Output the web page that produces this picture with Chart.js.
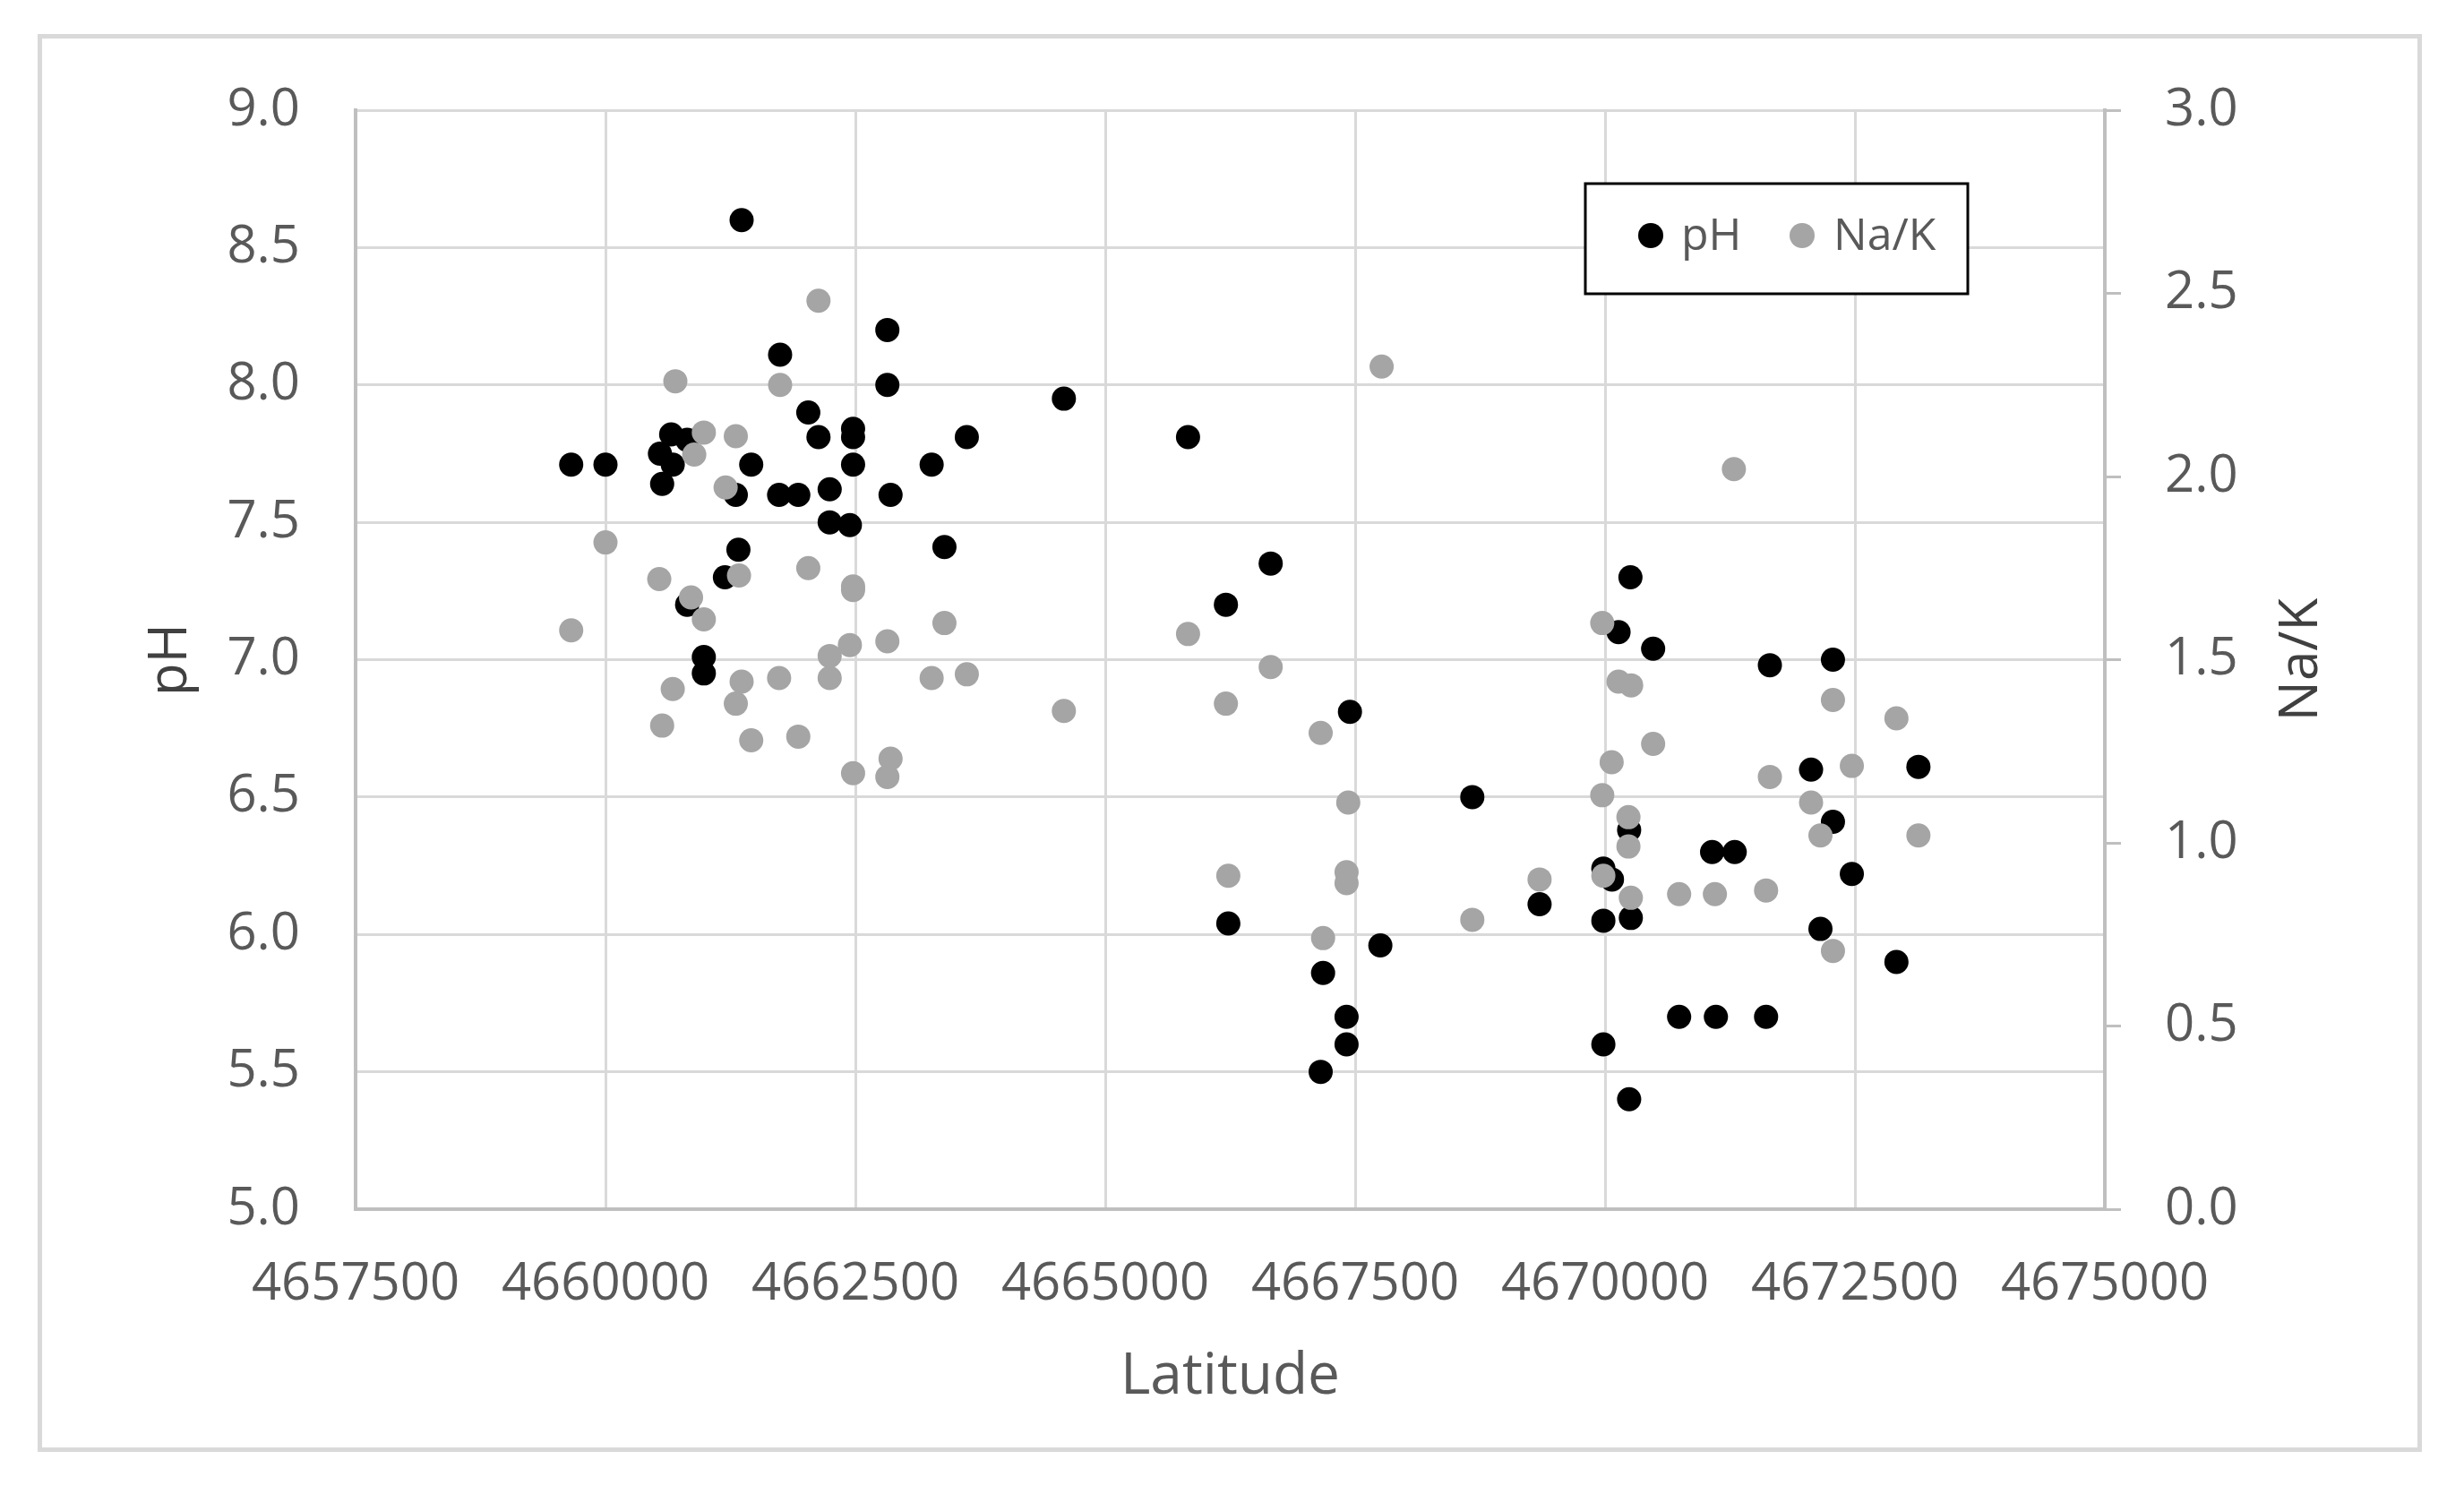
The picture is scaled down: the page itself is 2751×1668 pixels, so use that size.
<!DOCTYPE html>
<html>
<head>
<meta charset="utf-8">
<title>pH and Na/K vs Latitude</title>
<script src="https://cdn.jsdelivr.net/npm/chart.js@4/dist/chart.umd.min.js"></script>
<style>
    html, body { margin: 0; padding: 0; background: #fff; }
    body { width: 2751px; height: 1668px; position: relative; overflow: hidden; }
    #frame {
        position: absolute; left: 42px; top: 38px;
        width: 2652px; height: 1573px;
        border: 5px solid #d9d9d9;
    }
    #wrap { position: absolute; left: 0; top: 0; width: 2751px; height: 1668px; }
</style>
</head>
<body>
<div id="frame"></div>
<div id="wrap"><canvas id="chart"></canvas></div>
<script>
// ===== Data =====
const latitudePH = [
    4659657, 4660000, 4660545, 4660567, 4660657, 4660673, 4660817, 4660817, 4660984, 4660984,
    4661195, 4661330, 4661304, 4661362, 4661458, 4661737, 4661747, 4661929, 4662029, 4662131,
    4662243, 4662243, 4662445, 4662477, 4662477, 4662477, 4662820, 4662820, 4662852, 4663263,
    4663391, 4663615,
    4664586, 4665828, 4666207, 4666655, 4666231, 4667448, 4667179, 4667414, 4667414, 4667155,
    4667752, 4668672,
    4669345, 4669983, 4670069, 4669983, 4670258, 4670241, 4670135, 4670254, 4670481, 4669983,
    4670241, 4670741, 4671109, 4671611, 4671071, 4671297, 4671649, 4672061, 4672280, 4672280,
    4672155, 4672469, 4672915, 4673135
];
const pHValues = [
    7.71, 7.71, 7.75, 7.64, 7.82, 7.71, 7.80, 7.20, 7.01, 6.95,
    7.30, 7.40, 7.60, 8.60, 7.71, 7.60, 8.11, 7.60, 7.90, 7.81,
    7.62, 7.50, 7.49, 7.84, 7.81, 7.71, 8.20, 8.00, 7.60, 7.71,
    7.41, 7.81,
    7.95, 7.81, 7.20, 7.35, 6.04, 6.81, 5.86, 5.70, 5.60, 5.50,
    5.96, 6.50,
    6.11, 6.24, 6.20, 6.05, 6.06, 6.38, 7.10, 7.30, 7.04, 5.60,
    5.40, 5.70, 5.70, 5.70, 6.30, 6.30, 6.98, 6.60, 7.00, 6.41,
    6.02, 6.22, 5.90, 6.61
];

const latitudeNaK = [
    4659657, 4660000, 4660538, 4660567, 4660673, 4660699, 4660856, 4660888, 4660984, 4660984,
    4661202, 4661304, 4661304, 4661336, 4661362, 4661458, 4661737, 4661747, 4661929, 4662029,
    4662131, 4662243, 4662243, 4662445, 4662477, 4662477, 4662477, 4662820, 4662852, 4662820,
    4663263, 4663391, 4663615,
    4664586, 4665828, 4666207, 4666655, 4667155, 4667765, 4666231, 4667431, 4667414, 4667414,
    4667179, 4668672,
    4669345, 4669972, 4669972, 4670066, 4670135, 4670261, 4670481, 4670234, 4670234, 4669983,
    4670258, 4670741, 4671099, 4671611, 4671289, 4671649, 4672061, 4672155, 4672280, 4672280,
    4672469, 4672915, 4673135
];
const naKValues = [
    1.58, 1.82, 1.72, 1.32, 1.42, 2.26, 1.67, 2.06, 2.12, 1.61,
    1.97, 2.11, 1.38, 1.73, 1.44, 1.28, 1.45, 2.25, 1.29, 1.75,
    2.48, 1.51, 1.45, 1.54, 1.70, 1.69, 1.19, 1.55, 1.23, 1.18,
    1.45, 1.60, 1.46,
    1.36, 1.57, 1.38, 1.48, 1.30, 2.30, 0.91, 1.11, 0.92, 0.89,
    0.74, 0.79,
    0.90, 1.60, 1.13, 1.22, 1.44, 1.43, 1.27, 1.07, 0.99, 0.91,
    0.85, 0.86, 0.86, 0.87, 2.02, 1.18, 1.11, 1.02, 1.39, 0.705,
    1.21, 1.34, 1.02
];

const xTicks = [4657500, 4660000, 4662500, 4665000, 4667500, 4670000, 4672500, 4675000];
const pHTicks = [5.0, 5.5, 6.0, 6.5, 7.0, 7.5, 8.0, 8.5, 9.0];
const naKTicks = [0.0, 0.5, 1.0, 1.5, 2.0, 2.5, 3.0];

// ===== Styling =====
const FONT = "'Open Sans', sans-serif";
const GRID = '#d9d9d9';
const AXIS = '#bfbfbf';
const TEXT = '#595959';

Chart.defaults.font.family = FONT;
Chart.defaults.color = TEXT;

function fixSize(prop, size) {
    return scale => { scale[prop] = size; };
}
function useTicks(values) {
    return scale => { scale.ticks = values.map(v => ({ value: v })); };
}

// Legend box inside the plot, top right
const boxLegend = {
    id: 'boxLegend',
    afterDraw(chart) {
        const { ctx, chartArea } = chart;
        const x0 = chartArea.right - 580, y0 = chartArea.top + 82;
        const w = 427, h = 123;
        ctx.save();
        ctx.fillStyle = '#fff';
        ctx.fillRect(x0, y0, w, h);
        ctx.lineWidth = 3;
        ctx.strokeStyle = '#000';
        ctx.strokeRect(x0, y0, w, h);
        ctx.font = '50px ' + FONT;
        ctx.textBaseline = 'middle';
        ctx.fillStyle = TEXT;
        const cy = y0 + 58;
        const items = [
            { label: chart.data.datasets[0].label, color: chart.data.datasets[0].backgroundColor, dx: 73, tx: 107 },
            { label: chart.data.datasets[1].label, color: chart.data.datasets[1].backgroundColor, dx: 242, tx: 277 }
        ];
        items.forEach(it => {
            ctx.beginPath();
            ctx.fillStyle = it.color;
            ctx.arc(x0 + it.dx, cy, 14, 0, Math.PI * 2);
            ctx.fill();
            ctx.fillStyle = TEXT;
            ctx.textAlign = 'left';
            ctx.fillText(it.label, x0 + it.tx, cy + 2);
        });
        // right axis title, reading bottom to top like the left one
        ctx.save();
        ctx.translate(2570, (chartArea.top + chartArea.bottom) / 2);
        ctx.rotate(-Math.PI / 2);
        ctx.font = '60px ' + FONT;
        ctx.fillStyle = '#404040';
        ctx.textAlign = 'center';
        ctx.fillText('Na/K', 0, 0);
        ctx.restore();
        ctx.restore();
    }
};

new Chart(document.getElementById('chart').getContext('2d'), {
    type: 'scatter',
    data: {
        datasets: [
            {
                label: 'pH',
                data: latitudePH.map((x, i) => ({ x: x, y: pHValues[i] })),
                yAxisID: 'y',
                backgroundColor: '#000000',
                pointRadius: 13.5,
                pointBorderWidth: 0,
                pointHoverRadius: 13.5,
                order: 2,
            },
            {
                label: 'Na/K',
                data: latitudeNaK.map((x, i) => ({ x: x, y: naKValues[i] })),
                yAxisID: 'y2',
                backgroundColor: '#a5a5a5',
                pointRadius: 13.5,
                pointBorderWidth: 0,
                pointHoverRadius: 13.5,
                order: 1,
            }
        ]
    },
    options: {
        responsive: true,
        maintainAspectRatio: false,
        animation: false,
        layout: { padding: { top: 123, left: 0, right: 0, bottom: 0 } },
        plugins: {
            legend: { display: false },
            tooltip: { enabled: false },
        },
        scales: {
            x: {
                type: 'linear',
                min: 4657500,
                max: 4675000,
                afterBuildTicks: useTicks(xTicks),
                afterFit: fixSize('height', 318),
                ticks: {
                    font: { size: 58 },
                    color: TEXT,
                    padding: 50,
                    maxRotation: 0,
                    autoSkip: false,
                    callback: v => String(v),
                },
                grid: { color: GRID, lineWidth: 3, drawTicks: false },
                border: { color: AXIS, width: 4 },
                title: {
                    display: true,
                    text: 'Latitude',
                    font: { size: 64 },
                    color: TEXT,
                    padding: { bottom: 92 },
                },
            },
            y: {
                position: 'left',
                min: 5,
                max: 9,
                afterBuildTicks: useTicks(pHTicks),
                afterFit: fixSize('width', 397),
                ticks: {
                    font: { size: 58 },
                    color: TEXT,
                    padding: 62,
                    callback: v => v.toFixed(1),
                },
                grid: { color: GRID, lineWidth: 3, drawTicks: false },
                border: { color: AXIS, width: 4 },
                title: {
                    display: true,
                    text: 'pH',
                    font: { size: 60 },
                    color: '#404040',
                    padding: { top: 155 },
                },
            },
            y2: {
                position: 'right',
                min: 0,
                max: 3,
                afterBuildTicks: useTicks(naKTicks),
                afterFit: fixSize('width', 401),
                ticks: {
                    font: { size: 58 },
                    color: TEXT,
                    padding: 49,
                    callback: v => v.toFixed(1),
                },
                grid: { drawOnChartArea: false, color: AXIS, lineWidth: 3, tickLength: 18 },
                border: { color: AXIS, width: 4 },
            }
        }
    },
    plugins: [boxLegend]
});
</script>
</body>
</html>
